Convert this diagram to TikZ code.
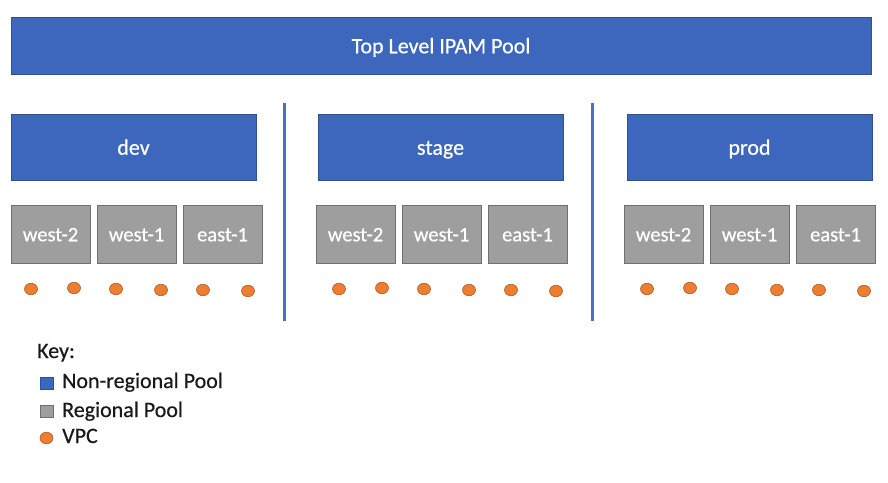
\documentclass[tikz,border=0pt]{standalone}
\usepackage{fontspec}
\setmainfont{Carlito}
\newfontfamily\boxfont[FakeBold=0.5]{Carlito}
\usepackage{tikz}
\usetikzlibrary{shapes.geometric}
\definecolor{poolblue}{RGB}{61,103,189}
\definecolor{poolblueline}{RGB}{47,82,143}
\definecolor{divblue}{RGB}{68,114,196}
\definecolor{regiongray}{RGB}{158,158,158}
\definecolor{regionline}{RGB}{112,112,112}
\definecolor{vpcorange}{RGB}{237,125,49}
\definecolor{vpcline}{RGB}{174,90,33}
\tikzset{
  poolbox/.style={draw=poolblueline,fill=poolblue,line width=1pt,text=white,
    font=\boxfont\fontsize{22}{25}\selectfont,text height=15.5pt,text depth=0pt,inner sep=0pt},
  regionbox/.style={draw=regionline,fill=regiongray,line width=1pt,text=white,
    minimum width=79pt,minimum height=58pt,
    font=\boxfont\fontsize{20.5}{23}\selectfont,text height=14.5pt,text depth=0pt,inner sep=0pt},
  vpc/.style={ellipse,draw=vpcline,fill=vpcorange,line width=0.6pt,
    minimum width=13pt,minimum height=11.5pt,inner sep=0pt},
  keytext/.style={anchor=base west,font=\boxfont\fontsize{22}{26}\selectfont,text=black!90,inner sep=0pt}
}
\begin{document}
\begin{tikzpicture}[x=1pt,y=-1pt]
\useasboundingbox (0,0) rectangle (888,482);
\node[poolbox,minimum width=860pt,minimum height=57pt] (top) at (441,45.5) {Top Level IPAM Pool};
\foreach \g/\bx/\rx/\dx in {dev/11/11/0, stage/318/316/308, prod/627/624/616}{
  \node[poolbox,minimum width=245pt,minimum height=66pt] (\g) at (\bx+122.5,147) {\g};
  \node[regionbox] (\g-w2) at (\rx+39.5,234) {west-2};
  \node[regionbox] (\g-w1) at (\rx+125.5,234) {west-1};
  \node[regionbox] (\g-e1) at (\rx+211.5,234) {east-1};
  \node[vpc] (\g-v1) at (\dx+31,289) {};
  \node[vpc] (\g-v2) at (\dx+74,288) {};
  \node[vpc] (\g-v3) at (\dx+116,289) {};
  \node[vpc] (\g-v4) at (\dx+161,290) {};
  \node[vpc] (\g-v5) at (\dx+203,290) {};
  \node[vpc] (\g-v6) at (\dx+248,291) {};
}
\draw[divblue,line width=3pt] (284.5,103) -- (284.5,321);
\draw[divblue,line width=3pt] (592.5,103) -- (592.5,321);
\node[keytext] (key) at (37,358) {Key:};
\node[draw=poolblueline,fill=poolblue,line width=0.8pt,minimum width=13pt,minimum height=12pt,inner sep=0pt] (keyblue) at (46.5,383) {};
\node[keytext] (keybluetext) at (62,388) {Non-regional Pool};
\node[draw=regionline,fill=regiongray,line width=0.8pt,minimum width=13pt,minimum height=12pt,inner sep=0pt] (keygray) at (46.5,411) {};
\node[keytext] (keygraytext) at (62,417) {Regional Pool};
\node[vpc] (keyvpc) at (46.5,438) {};
\node[keytext] (keyvpctext) at (62,443) {VPC};
\end{tikzpicture}
\end{document}
